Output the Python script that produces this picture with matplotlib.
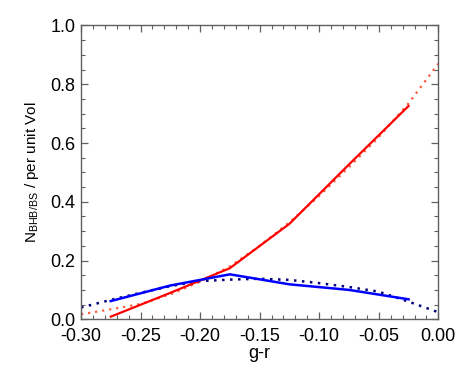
import matplotlib
matplotlib.use("Agg")
import matplotlib.pyplot as plt
from matplotlib.ticker import MultipleLocator, FormatStrFormatter

plt.rcParams['font.family'] = ['Liberation Sans', 'DejaVu Sans']

# binned data (solid)
x_bins = [-0.275, -0.225, -0.175, -0.125, -0.075, -0.025]
bhb_solid = [0.009, 0.090, 0.174, 0.325, 0.527, 0.726]
bs_solid = [0.062, 0.115, 0.153, 0.119, 0.100, 0.068]

# fitted curves (dotted)
x_fit = [-0.300, -0.275, -0.250, -0.225, -0.200, -0.175, -0.150, -0.125, -0.100, -0.075, -0.050, -0.025, 0.000]
bhb_fit = [0.017, 0.034, 0.052, 0.085, 0.128, 0.180, 0.250, 0.330, 0.420, 0.518, 0.620, 0.735, 0.870]
bs_fit = [0.040, 0.066, 0.090, 0.113, 0.130, 0.135, 0.138, 0.134, 0.123, 0.110, 0.094, 0.060, 0.024]

fig = plt.figure(figsize=(4.63, 3.71), dpi=100)
ax = fig.add_axes([0.175, 0.1394, 0.7717, 0.7919])

ax.plot(x_fit, bhb_fit, color='#ff5a3c', lw=1.6, ls=(0, (1, 2.2)))
ax.plot(x_fit, bs_fit, color='#00007a', lw=1.8, ls=(0, (1, 2.2)))
ax.plot(x_bins, bhb_solid, color='#ff0000', lw=1.6)
ax.plot(x_bins, bs_solid, color='#0000ff', lw=1.8)

ax.set_xlim(-0.30, 0.0)
ax.set_ylim(0.0, 1.0)
ax.xaxis.set_major_locator(MultipleLocator(0.05))
ax.xaxis.set_minor_locator(MultipleLocator(0.01))
ax.yaxis.set_major_locator(MultipleLocator(0.2))
ax.yaxis.set_minor_locator(MultipleLocator(0.05))
ax.xaxis.set_major_formatter(FormatStrFormatter('%.2f'))
ax.yaxis.set_major_formatter(FormatStrFormatter('%.1f'))

for s in ax.spines.values():
    s.set_color('#606060')
    s.set_linewidth(1.0)
ax.tick_params(which='both', direction='in', top=True, right=True, colors='#606060',
               labelcolor='black', labelsize=13)
ax.tick_params(which='major', length=5, width=0.9, pad=6)
ax.tick_params(which='minor', length=2.7, width=0.8)
ax.tick_params(axis='y', which='major', pad=4)

ax.set_xlabel('g-r', fontsize=13, labelpad=0)
ax.set_ylabel(r'N$_{\mathregular{BHB/BS}}$ / per unit Vol', fontsize=11, labelpad=7)

fig.savefig('out.png', dpi=100)
